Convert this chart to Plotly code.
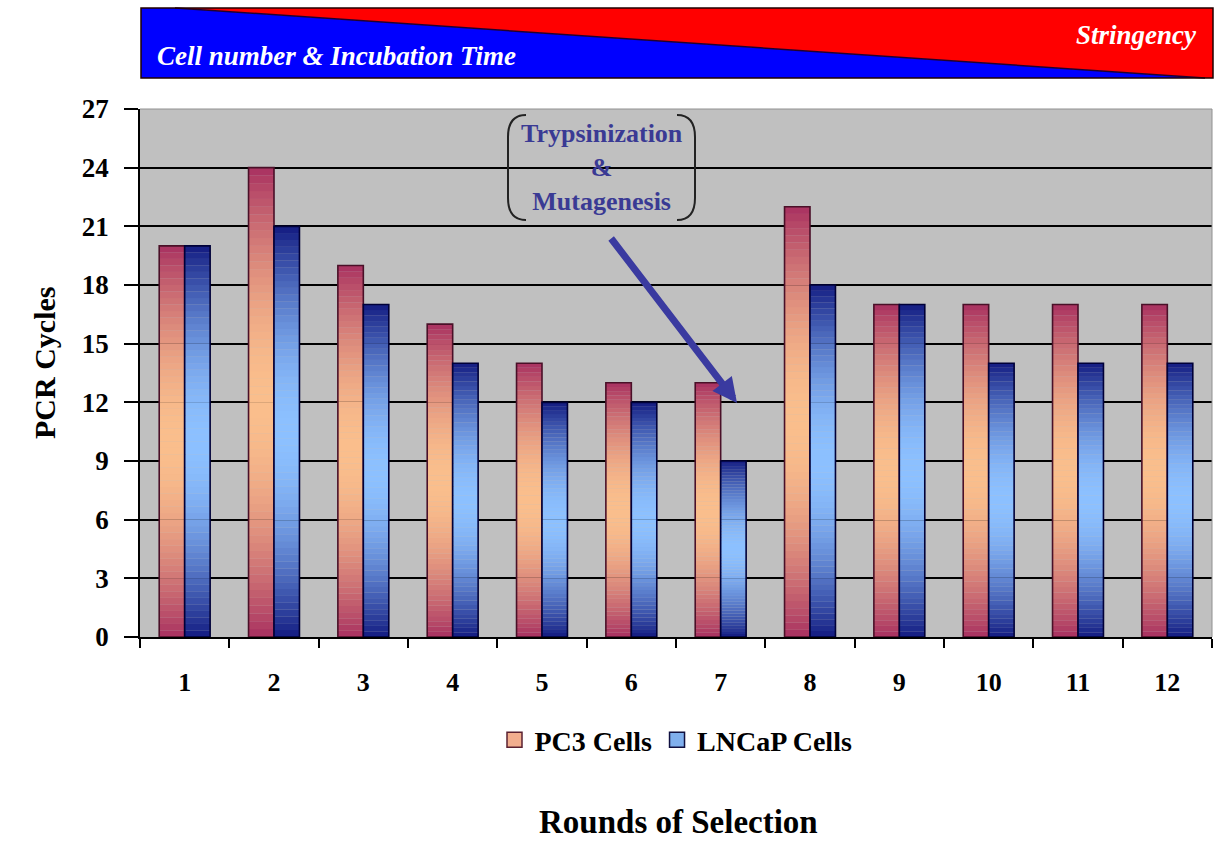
import plotly.graph_objects as go
import numpy as np

# ---- data ----
rounds = [str(i) for i in range(1, 13)]
pc3 = [20, 24, 19, 16, 14, 13, 13, 22, 17, 17, 17, 17]
lncap = [20, 21, 17, 14, 12, 12, 9, 18, 17, 14, 14, 14]
series_names = ["PC3 Cells", "LNCaP Cells"]
y_ticks = [0, 3, 6, 9, 12, 15, 18, 21, 24, 27]

W, H = 1219, 841
L, R, T, B = 140, 7, 109, 204
PW, PH = W - L - R, H - T - B


def fx(px):
    return (px - L) / PW


def fy(py):
    return (H - B - py) / PH


def mix(c1, c2, t):
    return "rgb(%d,%d,%d)" % tuple(int(round(a + (b - a) * t)) for a, b in zip(c1, c2))


FONT = "Times New Roman, Liberation Serif, serif"
N = 60
fig = go.Figure()

styles = [
    dict(vals=pc3, offset=-0.285, dark=(168, 48, 96), light=(250, 190, 140), line="#4a1028"),
    dict(vals=lncap, offset=0.0, dark=(18, 26, 128), light=(140, 192, 255), line="#000038"),
]
width = 0.285

for s in styles:
    vals = np.array(s["vals"], dtype=float)
    for k in range(N):
        t = (k + 0.5) / N
        f = np.sin(np.pi * t) ** 0.9
        fig.add_trace(go.Bar(
            x=rounds, y=vals / N * 1.02, base=vals * k / N,
            offset=s["offset"], width=width,
            marker=dict(color=mix(s["dark"], s["light"], f), line=dict(width=0)),
            showlegend=False, hoverinfo="skip"))
    fig.add_trace(go.Bar(
        x=rounds, y=list(vals), offset=s["offset"], width=width,
        marker=dict(color="rgba(0,0,0,0)", line=dict(color=s["line"], width=1.6)),
        showlegend=False, hoverinfo="skip"))

# legend entries
fig.add_trace(go.Scatter(x=[None], y=[None], mode="markers", name=series_names[0],
                         marker=dict(symbol="square", size=15, color="#f2ae8e",
                                     line=dict(color="#5a2030", width=1.5))))
fig.add_trace(go.Scatter(x=[None], y=[None], mode="markers", name=series_names[1],
                         marker=dict(symbol="square", size=15, color="#80b0ee",
                                     line=dict(color="#101040", width=1.5))))

shapes = []
# banner
x0b, x1b, y0b, y1b = 141, 1213, 8, 78
dl, dr = 175, 1205
blue = f"M {fx(x0b)},{fy(y0b)} L {fx(dl)},{fy(y0b)} L {fx(dr)},{fy(y1b)} L {fx(x0b)},{fy(y1b)} Z"
red = f"M {fx(dl)},{fy(y0b)} L {fx(x1b)},{fy(y0b)} L {fx(x1b)},{fy(y1b)} L {fx(dr)},{fy(y1b)} Z"
shapes.append(dict(type="path", xref="paper", yref="paper", path=blue, fillcolor="#0000ff", line=dict(width=0)))
shapes.append(dict(type="path", xref="paper", yref="paper", path=red, fillcolor="#ff0000", line=dict(width=0)))
shapes.append(dict(type="line", xref="paper", yref="paper", x0=fx(dl), y0=fy(y0b), x1=fx(dr), y1=fy(y1b),
                   line=dict(color="#200030", width=1.5)))
shapes.append(dict(type="rect", xref="paper", yref="paper", x0=fx(x0b), y0=fy(y0b), x1=fx(x1b), y1=fy(y1b),
                   line=dict(color="#200000", width=1.5)))


# brackets around annotation text
def bracket(xe, xs, yt, yb, r=22):
    return (f"M {fx(xe)},{fy(yt)} Q {fx(xs)},{fy(yt)} {fx(xs)},{fy(yt + r)} "
            f"L {fx(xs)},{fy(yb - r)} Q {fx(xs)},{fy(yb)} {fx(xe)},{fy(yb)}")


shapes.append(dict(type="path", xref="paper", yref="paper", path=bracket(526, 508, 115, 220),
                   line=dict(color="#222222", width=2)))
shapes.append(dict(type="path", xref="paper", yref="paper", path=bracket(677, 695, 115, 220),
                   line=dict(color="#222222", width=2)))
# plot border top/right
shapes.append(dict(type="line", xref="paper", yref="paper", x0=0, y0=1, x1=1, y1=1,
                   line=dict(color="#909090", width=1)))
shapes.append(dict(type="line", xref="paper", yref="paper", x0=1, y0=0, x1=1, y1=1,
                   line=dict(color="#909090", width=1)))

annotations = [
    dict(text="<b><i>Cell number &amp; Incubation Time</i></b>", x=fx(155), y=fy(56), xref="paper", yref="paper",
         xanchor="left", yanchor="middle", showarrow=False, font=dict(family=FONT, size=27, color="white")),
    dict(text="<b><i>Stringency</i></b>", x=fx(1199), y=fy(35), xref="paper", yref="paper",
         xanchor="right", yanchor="middle", showarrow=False, font=dict(family=FONT, size=27, color="white")),
    dict(text="<b>Trypsinization<br>&amp;<br>Mutagenesis</b>", x=fx(602), y=fy(167), xref="paper", yref="paper",
         xanchor="center", yanchor="middle", showarrow=False, align="center",
         font=dict(family=FONT, size=26, color="#3a3a94")),
    dict(text="", x=fx(737), y=fy(403), xref="paper", yref="paper", showarrow=True,
         ax=610 - 737, ay=237 - 403, arrowhead=2, arrowsize=0.7, arrowwidth=7, arrowcolor="#3a3aa0", standoff=0),
    dict(text="<b>PCR Cycles</b>", x=fx(44), y=fy(363), xref="paper", yref="paper", textangle=-90,
         xanchor="center", yanchor="middle", showarrow=False, font=dict(family=FONT, size=30, color="black")),
    dict(text="<b>Rounds of Selection</b>", x=fx(678), y=fy(822), xref="paper", yref="paper",
         xanchor="center", yanchor="middle", showarrow=False, font=dict(family=FONT, size=33, color="black")),
]

fig.update_layout(
    width=W, height=H, margin=dict(l=L, r=R, t=T, b=B),
    paper_bgcolor="white", plot_bgcolor="#c0c0c0",
    barmode="overlay", hovermode=False,
    shapes=shapes, annotations=annotations,
    legend=dict(orientation="h", x=fx(676), xanchor="center", y=fy(740), yanchor="middle",
                font=dict(family=FONT, size=28, color="black", weight="bold"),
                bgcolor="rgba(0,0,0,0)", itemclick=False),
    xaxis=dict(type="category", categoryorder="array", categoryarray=rounds,
               range=[-0.5, 11.5], tickson="boundaries", ticks="outside", ticklen=9, tickwidth=1.5,
               tickcolor="black", showline=True, linecolor="black", linewidth=1.5, showgrid=False,
               tickfont=dict(family=FONT, size=26, color="black", weight="bold"), ticklabelstandoff=21),
    yaxis=dict(range=[0, 27], tickvals=y_ticks, ticks="outside", ticklen=14, tickwidth=1.5, tickcolor="black",
               showline=True, linecolor="black", linewidth=1.5, showgrid=True, gridcolor="black", gridwidth=1.5,
               zeroline=False, tickfont=dict(family=FONT, size=27, color="black", weight="bold"),
               ticklabelstandoff=10),
)

fig.write_html("out.html")
